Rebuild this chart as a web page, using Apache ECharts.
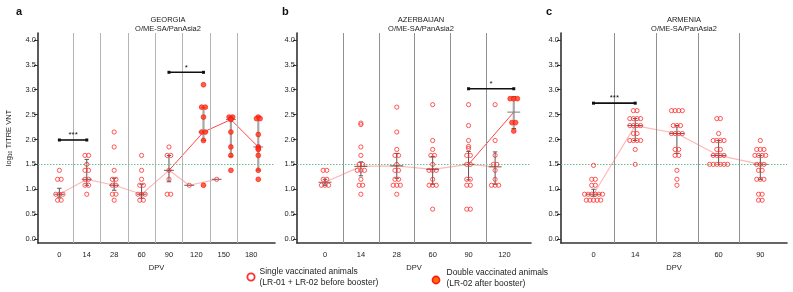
<!DOCTYPE html>
<html><head><meta charset="utf-8">
<script src="https://cdn.jsdelivr.net/npm/echarts@6/dist/echarts.min.js"></script>
<style>html,body{margin:0;padding:0;background:#fff}#c{width:793px;height:292px}</style>
</head><body><div id="c"></div>
<script>
// ---------- DATA ----------
const yTicks = [0, 0.5, 1, 1.5, 2, 2.5, 3, 3.5, 4];
const threshold = 1.5;

// Panel a: GEORGIA
const geoCats = ['0','14','28','60','90','120','150','180'];
const geoSingle = [
  [1.38,1.2,1.2,0.9,0.9,0.9,0.78,0.78],
  [1.68,1.68,1.5,1.38,1.38,1.2,1.2,1.08,1.08,0.9],
  [2.15,1.85,1.38,1.2,1.2,1.08,1.08,0.9,0.9,0.78],
  [1.68,1.38,1.2,1.08,1.08,0.9,0.9,0.9,0.78,0.78],
  [1.85,1.68,1.68,1.38,1.2,0.9,0.9],
  [1.08],
  [1.2],
  []
];
const geoSingleMed = [0.9,1.2,1.08,0.9,1.38,1.08,1.2,null];
const geoSingleQ1  = [0.84,1.08,0.98,0.82,1.15,1.08,1.2,null];
const geoSingleQ3  = [1.02,1.6,1.22,1.1,1.68,1.08,1.2,null];
const geoDouble = [[],[],[],[],[],
  [3.1,2.65,2.65,2.45,2.15,2.15,1.98,1.08],
  [2.45,2.45,2.42,2.4,2.15,1.85,1.68,1.38],
  [2.45,2.42,2.42,2.1,1.85,1.82,1.8,1.68,1.38,1.2]
];
const geoDoubleMed = [null,null,null,null,null,2.15,2.4,1.85];
const geoDoubleQ1  = [null,null,null,null,null,1.98,1.66,1.38];
const geoDoubleQ3  = [null,null,null,null,null,2.64,2.44,2.45];
const geoBooster = '90';
const geoSig = [
  {from:['0','single'], to:['14','single'], y:1.99, text:'***'},
  {from:['90','single'], to:['120','double'], y:3.35, text:'*'}
];

// Panel b: AZERBAIJAN
const azeCats = ['0','14','28','60','90','120'];
const azeSingle = [
  [1.38,1.38,1.2,1.2,1.08,1.08,1.08],
  [2.33,2.3,1.85,1.68,1.5,1.5,1.38,1.38,1.38,1.2,1.08,1.08,0.9],
  [2.65,2.15,1.8,1.68,1.68,1.5,1.38,1.38,1.2,1.2,1.08,1.08,1.08,0.9],
  [2.7,1.98,1.8,1.68,1.68,1.5,1.38,1.38,1.38,1.2,1.08,1.08,1.08,0.6],
  [2.7,2.28,1.98,1.86,1.82,1.68,1.68,1.5,1.5,1.2,1.2,1.08,1.08,0.6,0.6],
  [2.7,1.98,1.68,1.5,1.5,1.38,1.2,1.08,1.08,1.08]
];
const azeSingleMed = [1.14,1.46,1.47,1.4,1.5,1.45];
const azeSingleQ1  = [1.08,1.27,1.22,1.1,1.19,1.1];
const azeSingleQ3  = [1.2,1.55,1.72,1.66,1.76,1.75];
const azeDouble = [[],[],[],[],[],[2.82,2.82,2.82,2.34,2.34,2.17]];
const azeDoubleMed = [null,null,null,null,null,2.55];
const azeDoubleQ1  = [null,null,null,null,null,2.22];
const azeDoubleQ3  = [null,null,null,null,null,2.86];
const azeBooster = '90';
const azeSig = [
  {from:['90','single'], to:['120','double'], y:3.02, text:'*'}
];

// Panel c: ARMENIA
const armCats = ['0','14','28','60','90'];
const armSingle = [
  [1.48,1.2,1.2,1.08,1.08,0.9,0.9,0.9,0.9,0.9,0.9,0.78,0.78,0.78,0.78,0.78],
  [2.58,2.58,2.42,2.42,2.42,2.42,2.28,2.28,2.28,2.28,2.12,2.12,1.98,1.98,1.98,1.98,1.8,1.5],
  [2.58,2.58,2.58,2.58,2.28,2.28,2.28,2.12,2.12,2.12,2.12,1.8,1.8,1.68,1.68,1.38,1.2,1.08],
  [2.42,2.42,2.12,1.98,1.98,1.98,1.98,1.8,1.8,1.68,1.68,1.68,1.68,1.5,1.5,1.5,1.5,1.5,1.5],
  [1.98,1.8,1.8,1.8,1.68,1.68,1.68,1.68,1.5,1.5,1.5,1.38,1.38,1.2,1.2,1.2,0.9,0.9,0.78,0.78]
];
const armSingleMed = [0.9,2.28,2.12,1.68,1.5];
const armSingleQ1  = [0.86,1.98,1.72,1.5,1.2];
const armSingleQ3  = [1.0,2.42,2.28,1.98,1.68];
const armSig = [
  {from:['0','single'], to:['14','single'], y:2.73, text:'***'}
];

const titles = ['GEORGIA', 'AZERBAIJAN', 'ARMENIA'];
const lineage = 'O/ME-SA/PanAsia2';
const letters = ['a', 'b', 'c'];
const legendSingle = ['Single vaccinated animals', '(LR-01 + LR-02 before booster)'];
const legendDouble = ['Double vaccinated animals', '(LR-02 after booster)'];

// ---------- BUILD ----------
const FONT = '"Liberation Sans", Arial, Helvetica, sans-serif';
const RED = '#ff2d2d';
const OFF = 0.26, SWARM = 3.6, XMIN = -0.78;
const panels = [
  {cats:geoCats, single:geoSingle, sMed:geoSingleMed, sQ1:geoSingleQ1, sQ3:geoSingleQ3,
   double:geoDouble, dMed:geoDoubleMed, dQ1:geoDoubleQ1, dQ3:geoDoubleQ3, booster:geoBooster, sig:geoSig,
   left:38, width:237, xmax:7.87, sepColor:'#b4b4b4', titleX:163, letterX:11},
  {cats:azeCats, single:azeSingle, sMed:azeSingleMed, sQ1:azeSingleQ1, sQ3:azeSingleQ3,
   double:azeDouble, dMed:azeDoubleMed, dQ1:azeDoubleQ1, dQ3:azeDoubleQ3, booster:azeBooster, sig:azeSig,
   left:297, width:234, xmax:5.74, sepColor:'#909090', titleX:416, letterX:277},
  {cats:armCats, single:armSingle, sMed:armSingleMed, sQ1:armSingleQ1, sQ3:armSingleQ3,
   double:null, dMed:null, dQ1:null, dQ3:null, booster:null, sig:armSig,
   left:561, width:226, xmax:4.64, sepColor:'#909090', titleX:679, letterX:541}
];

const grids = [], xAxes = [], yAxes = [], series = [], titleOpts = [];

panels.forEach((p, pi) => {
  const unitPx = p.width / (p.xmax - XMIN);
  const hasD = i => p.double && p.double[i] && p.double[i].length > 0;
  const posS = i => hasD(i) ? i - OFF : i;
  const posD = i => i + OFF;
  const pos = (cat, kind) => { const i = p.cats.indexOf(cat); return kind === 'double' ? posD(i) : posS(i); };

  grids.push({left:p.left, width:p.width, top:33, bottom:49, outerBoundsMode:'none', containLabel:false});
  xAxes.push({
    gridIndex:pi, type:'value', min:XMIN, max:p.xmax,
    name:'DPV', nameLocation:'middle', nameGap:21,
    nameTextStyle:{fontSize:7.5, color:'#222', fontFamily:FONT},
    axisLine:{show:true, onZero:false, lineStyle:{color:'#333', width:1.6}},
    axisTick:{show:false},
    splitLine:{show:false},
    axisLabel:{customValues:p.cats.map((c,i)=>i), formatter:v=>p.cats[Math.round(v)],
      fontSize:7.5, color:'#222', margin:8, fontFamily:FONT}
  });
  yAxes.push({
    gridIndex:pi, type:'value', min:-0.08, max:4.14,
    name: pi === 0 ? 'log{s|10} TITRE VNT' : '',
    nameLocation:'middle', nameGap:25,
    nameTextStyle:{fontSize:7.5, color:'#222', fontFamily:FONT,
      rich:{s:{fontSize:5, color:'#222', fontFamily:FONT, padding:[4,0,0,0]}}},
    axisLine:{show:true, onZero:false, lineStyle:{color:'#333', width:1.6}},
    axisTick:{show:true, length:4, customValues:yTicks, lineStyle:{color:'#333'}},
    splitLine:{show:false},
    axisLabel:{customValues:yTicks, formatter:v=>v.toFixed(1), fontSize:7.5, color:'#222', margin:2, fontFamily:FONT}
  });

  titleOpts.push({text:titles[pi] + '\n' + lineage, left:p.titleX, top:10, textAlign:'center',
    textStyle:{fontSize:7.5, fontWeight:'normal', color:'#222', lineHeight:9, fontFamily:FONT}});
  titleOpts.push({text:letters[pi], left:p.letterX, top:1,
    textStyle:{fontSize:11, fontWeight:'bold', color:'#111', fontFamily:FONT}});

  // separators + threshold
  const seps = p.cats.slice(1).map((c,i)=>({xAxis:i+0.5, lineStyle:{color:p.sepColor, width:1, type:'solid'}}));
  const markData = seps.concat([{yAxis:threshold, lineStyle:{color:'#6cbf8c', width:1, type:[1.5,1.5]}}]);

  // single median line
  const sLine = [];
  p.cats.forEach((c,i)=>{ if (p.sMed[i] != null) sLine.push([posS(i), p.sMed[i]]); });
  series.push({type:'line', xAxisIndex:pi, yAxisIndex:pi, data:sLine, symbol:'none', z:2,
    lineStyle:{color:'#ffb8b8', width:1.2}, silent:true, animation:false,
    markLine:{silent:true, symbol:['none','none'], label:{show:false}, animation:false, data:markData}});

  // double median line
  if (p.double) {
    const bi = p.cats.indexOf(p.booster);
    const dLine = [[posS(bi), p.sMed[bi]]];
    p.cats.forEach((c,i)=>{ if (p.dMed[i] != null) dLine.push([posD(i), p.dMed[i]]); });
    series.push({type:'line', xAxisIndex:pi, yAxisIndex:pi, data:dLine, symbol:'none', z:3,
      lineStyle:{color:'#ff4545', width:1}, silent:true, animation:false});
  }

  // median + IQR bars
  const hw = 0.18 * unitPx;
  const barSeries = (data, color, bw, medColor) => ({
    type:'custom', xAxisIndex:pi, yAxisIndex:pi, data:data, z:4, silent:true, animation:false,
    renderItem:(params, api) => {
      const x = api.value(0), m = api.value(1), q1 = api.value(2), q3 = api.value(3);
      const pm = api.coord([x,m]), p1 = api.coord([x,q1]), p3 = api.coord([x,q3]);
      const ch = [];
      if (Math.abs(p1[1]-p3[1]) > 0.5) {
        ch.push({type:'line', shape:{x1:p1[0], y1:p1[1], x2:p3[0], y2:p3[1]}, style:{stroke:color, lineWidth:bw}});
        ch.push({type:'line', shape:{x1:p1[0]-2.2, y1:p1[1], x2:p1[0]+2.2, y2:p1[1]}, style:{stroke:'#555', lineWidth:1}});
        ch.push({type:'line', shape:{x1:p3[0]-2.2, y1:p3[1], x2:p3[0]+2.2, y2:p3[1]}, style:{stroke:'#555', lineWidth:1}});
      }
      ch.push({type:'line', shape:{x1:pm[0]-hw, y1:pm[1], x2:pm[0]+hw, y2:pm[1]}, style:{stroke:medColor, lineWidth:1}});
      return {type:'group', children:ch};
    }
  });
  const sBars = [];
  p.cats.forEach((c,i)=>{ if (p.sMed[i] != null) sBars.push([posS(i), p.sMed[i], p.sQ1[i], p.sQ3[i]]); });
  series.push(barSeries(sBars, '#555', 1, 'rgba(70,70,70,0.85)'));
  if (p.double) {
    const dBars = [];
    p.cats.forEach((c,i)=>{ if (p.dMed[i] != null) dBars.push([posD(i), p.dMed[i], p.dQ1[i], p.dQ3[i]]); });
    series.push(barSeries(dBars, '#a8a8a8', 2.2, 'rgba(110,110,110,0.9)'));
  }

  // swarm points
  const swarm = (vals, cx) => {
    const counts = {}, seen = {};
    vals.forEach(v => counts[v] = (counts[v]||0) + 1);
    return vals.map(v => { const n = counts[v]; const k = seen[v] || 0; seen[v] = k + 1;
      return [cx + (k - (n-1)/2) * SWARM / unitPx, v]; });
  };
  let sPts = [];
  p.single.forEach((vals,i)=>{ if (vals.length) sPts = sPts.concat(swarm(vals, posS(i))); });
  series.push({type:'scatter', xAxisIndex:pi, yAxisIndex:pi, data:sPts, symbol:'circle', symbolSize:4.2, z:5,
    itemStyle:{color:'rgba(255,255,255,0)', borderColor:RED, borderWidth:1}, silent:true, animation:false});
  if (p.double) {
    let dPts = [];
    p.double.forEach((vals,i)=>{ if (vals.length) dPts = dPts.concat(swarm(vals, posD(i))); });
    series.push({type:'scatter', xAxisIndex:pi, yAxisIndex:pi, data:dPts, symbol:'circle', symbolSize:4.8, z:6,
      itemStyle:{color:'#ff3a14', borderColor:'#ff1010', borderWidth:0.8}, silent:true, animation:false});
  }

  // significance bars
  const sigData = p.sig.map(s => [pos(s.from[0], s.from[1]), s.y, pos(s.to[0], s.to[1])]);
  series.push({type:'custom', xAxisIndex:pi, yAxisIndex:pi, data:sigData, z:7, silent:true, animation:false,
    renderItem:(params, api) => {
      const a = api.coord([api.value(0), api.value(1)]);
      const b = api.coord([api.value(2), api.value(1)]);
      const t = p.sig[params.dataIndex].text;
      return {type:'group', children:[
        {type:'line', shape:{x1:a[0], y1:a[1], x2:b[0], y2:b[1]}, style:{stroke:'#111', lineWidth:1.6}},
        {type:'rect', shape:{x:a[0]-1.5, y:a[1]-1.5, width:3, height:3}, style:{fill:'#111'}},
        {type:'rect', shape:{x:b[0]-1.5, y:b[1]-1.5, width:3, height:3}, style:{fill:'#111'}},
        {type:'text', x:(a[0]+b[0])/2, y:a[1]-1, style:{text:t, fill:'#111', fontSize:8, fontFamily:FONT, align:'center', verticalAlign:'bottom'}}
      ]};
    }
  });
});

const legendFont = 8.5;
const option = {
  backgroundColor:'#fff',
  animation:false,
  title:titleOpts,
  grid:grids, xAxis:xAxes, yAxis:yAxes, series:series,
  graphic:{elements:[
    {type:'circle', shape:{cx:251, cy:277, r:3.6}, style:{fill:'rgba(255,255,255,0)', stroke:RED, lineWidth:1.8}},
    {type:'text', x:259.5, y:271.5, style:{text:legendSingle[0], fontSize:legendFont, fontFamily:FONT, fill:'#222', verticalAlign:'middle'}},
    {type:'text', x:259.5, y:282.5, style:{text:legendSingle[1], fontSize:legendFont, fontFamily:FONT, fill:'#222', verticalAlign:'middle'}},
    {type:'circle', shape:{cx:436, cy:280, r:3.6}, style:{fill:'#ff6a00', stroke:'#ff1a1a', lineWidth:1.6}},
    {type:'text', x:446.5, y:272.5, style:{text:legendDouble[0], fontSize:legendFont, fontFamily:FONT, fill:'#222', verticalAlign:'middle'}},
    {type:'text', x:446.5, y:283.5, style:{text:legendDouble[1], fontSize:legendFont, fontFamily:FONT, fill:'#222', verticalAlign:'middle'}}
  ]}
};
const chart = echarts.init(document.getElementById('c'), null, {renderer:'canvas'});
chart.setOption(option);
</script></body></html>
